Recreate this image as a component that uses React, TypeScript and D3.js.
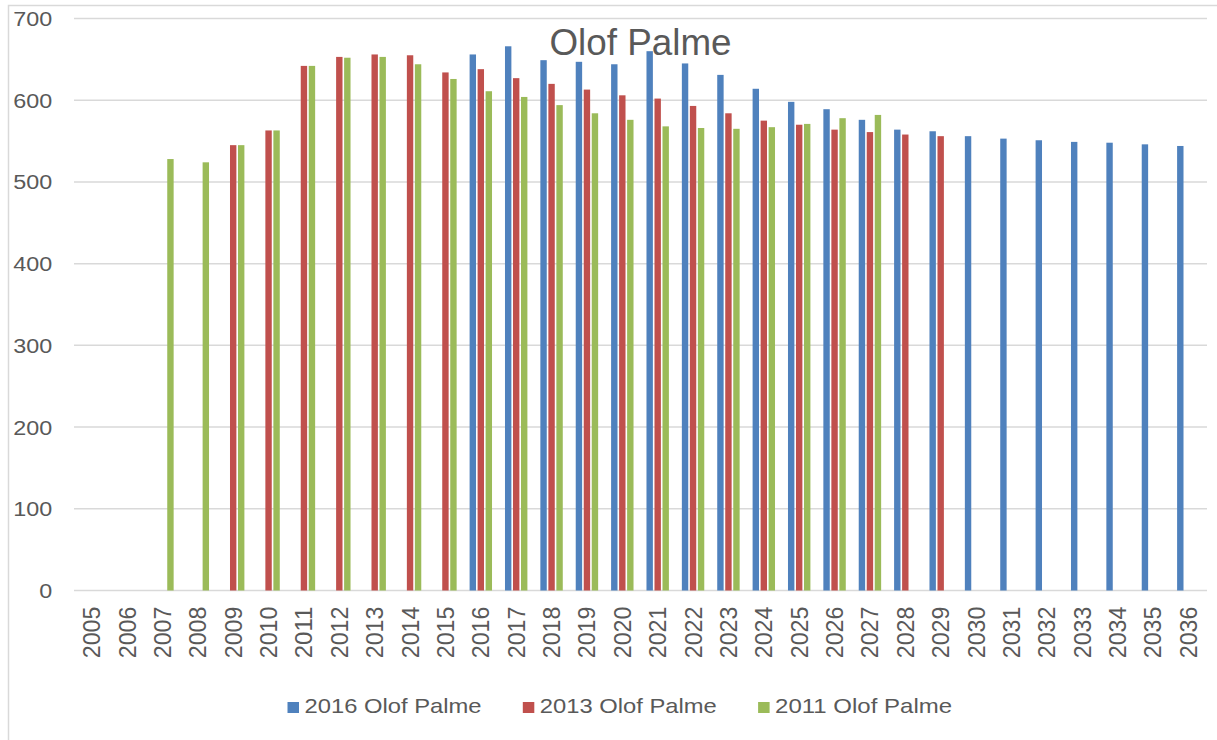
import React, { useEffect } from "react";
import * as d3 from "d3";

const years: string[] = d3.range(2005, 2037).map(String);

const s2016: (number | null)[] = [
  null, null, null, null, null, null, null, null, null, null, null,
  656, 666, 649, 647, 644, 660, 645, 631, 614, 598, 589, 576, 564, 562,
  556, 553, 551, 549, 548, 546, 544,
];
const s2013: (number | null)[] = [
  null, null, null, null, 545, 563, 642, 653, 656, 655, 634,
  638, 627, 620, 613, 606, 602, 593, 584, 575, 570, 564, 561, 558, 556,
  null, null, null, null, null, null, null,
];
const s2011: (number | null)[] = [
  null, null, 528, 524, 545, 563, 642, 652, 653, 644, 626,
  611, 604, 594, 584, 576, 568, 566, 565, 567, 571, 578, 582, null, null,
  null, null, null, null, null, null, null,
];

const seriesNames = ["2016 Olof Palme", "2013 Olof Palme", "2011 Olof Palme"];
const seriesValues = [s2016, s2013, s2011];
const colors = ["#4F81BD", "#C0504D", "#9BBB59"];
const yTicks = [0, 100, 200, 300, 400, 500, 600, 700];
const title = "Olof Palme";

const W = 1217;
const H = 740;
const FONT = "'Liberation Sans', Arial, sans-serif";
const TEXT = "#595959";
const GRID = "#D9D9D9";

export default function App() {
  useEffect(() => {
    document.body.style.margin = "0";
  }, []);

  const left = 74;
  const right = 1206;
  const x0 = d3
    .scaleBand<string>()
    .domain(years)
    .range([left, right])
    .paddingInner(0.321)
    .paddingOuter(0.1605);
  const x1 = d3
    .scaleBand<number>()
    .domain([0, 1, 2])
    .range([0, x0.bandwidth()]);
  const y = d3.scaleLinear().domain([0, 700]).range([590.5, 18.5]);
  const step = x0.step();

  const barW = 6.4;

  return (
    <svg
      width={W}
      height={H}
      style={{ position: "absolute", left: 0, top: 0, background: "#fff" }}
      fontFamily={FONT}
    >
      <rect x={8.5} y={5.5} width={1230} height={760} fill="#fff" stroke={GRID} strokeWidth={1.5} />
      {yTicks.map((t) => (
        <line key={"g" + t} x1={left} x2={1207} y1={y(t)} y2={y(t)} stroke={GRID} strokeWidth={1.5} />
      ))}
      {yTicks.map((t) => (
        <text
          key={"yl" + t}
          x={52.3}
          y={y(t) + 7.5}
          textAnchor="end"
          fontSize={20.5}
          fill={TEXT}
          textLength={String(t).length * 13}
          lengthAdjust="spacingAndGlyphs"
        >
          {t}
        </text>
      ))}
      {seriesValues.map((vals, si) =>
        vals.map((v, i) =>
          v == null ? null : (
            <rect
              key={si + "-" + i}
              x={(x0(years[i]) as number) + (x1(si) as number) + (x1.bandwidth() - barW) / 2}
              y={y(v)}
              width={barW}
              height={y(0) - y(v)}
              fill={colors[si]}
            />
          )
        )
      )}
      {years.map((yr) => {
        const cx = (x0(yr) as number) + x0.bandwidth() / 2;
        return (
          <text
            key={"xl" + yr}
            transform={`translate(${cx + 8.5},606.7) rotate(-90)`}
            textAnchor="end"
            fontSize={23}
            fill={TEXT}
            textLength={51.5}
            lengthAdjust="spacingAndGlyphs"
          >
            {yr}
          </text>
        );
      })}
      <text
        x={640.5}
        y={54.5}
        textAnchor="middle"
        fontSize={36}
        fill={TEXT}
        textLength={182}
        lengthAdjust="spacingAndGlyphs"
      >
        {title}
      </text>
      {seriesNames.map((name, i) => {
        const lx = 287.5 + i * 235.3;
        return (
          <g key={"lg" + i}>
            <rect x={lx} y={702} width={11.5} height={11} fill={colors[i]} />
            <text
              x={lx + 17}
              y={713.3}
              fontSize={21}
              fill={TEXT}
              textLength={177}
              lengthAdjust="spacingAndGlyphs"
            >
              {name}
            </text>
          </g>
        );
      })}
    </svg>
  );
}
